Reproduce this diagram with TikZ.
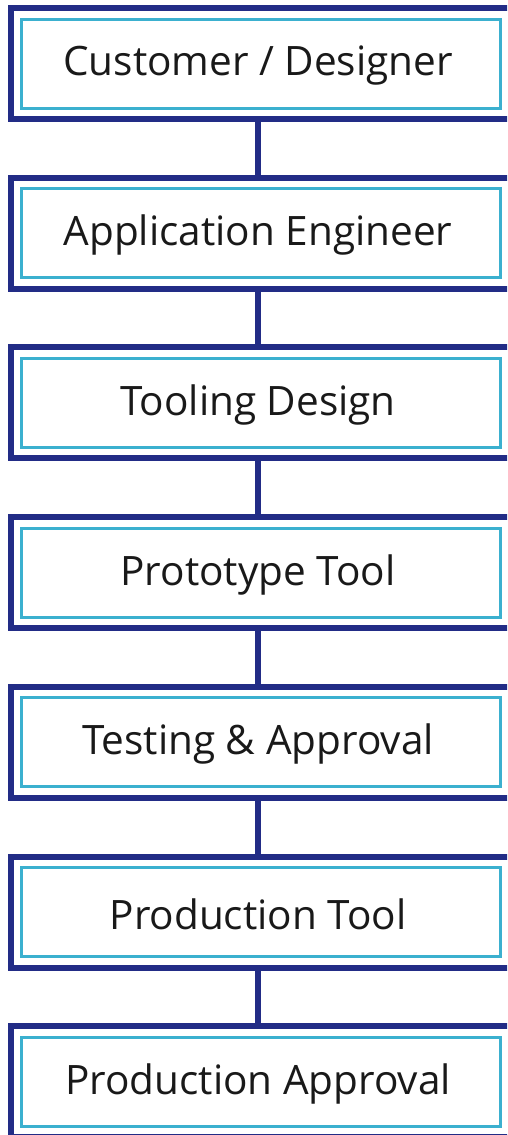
\documentclass[tikz,border=0pt]{standalone}
\usepackage{fontspec}
\setmainfont{Open Sans}
\definecolor{navy}{HTML}{222C86}
\definecolor{aqua}{HTML}{3BB0CF}
\begin{document}
\begin{tikzpicture}[x=1pt,y=-1pt,
  box/.style={draw=navy,line width=6pt,minimum width=509pt,minimum height=111pt,inner sep=0pt,outer sep=0pt},
  label/.style={font=\fontsize{40.5}{43}\selectfont,text=black!90,inner sep=0pt},
  inner/.style={draw=aqua,line width=3pt},
  link/.style={draw=navy,line width=6pt}]
\useasboundingbox (0,0) rectangle (507,1135);
\clip (0,0) rectangle (507,1135);
\foreach \i/\t in {0/{Customer / Designer},1/{Application Engineer},2/{Tooling Design},3/{Prototype Tool},4/{Testing \& Approval},5/{Production Tool},6/{Production Approval}}{
  \node[box] (b\i) at (265.5,{5+169.7*\i+58.5}) {};
  \node[label] (t\i) at ([xshift=-7.5pt,yshift=-2pt]b\i.center) {\t};
  \draw[inner] ([shift={(10pt,-11pt)}]b\i.north west) rectangle ([shift={(-20pt,11pt)}]b\i.south east);
}
\foreach \i [evaluate=\i as \j using int(\i+1)] in {0,...,5}{
  \draw[link] ([xshift=-7.5pt]b\i.south) -- ([xshift=-7.5pt]b\j.north);
}
\end{tikzpicture}
\end{document}
